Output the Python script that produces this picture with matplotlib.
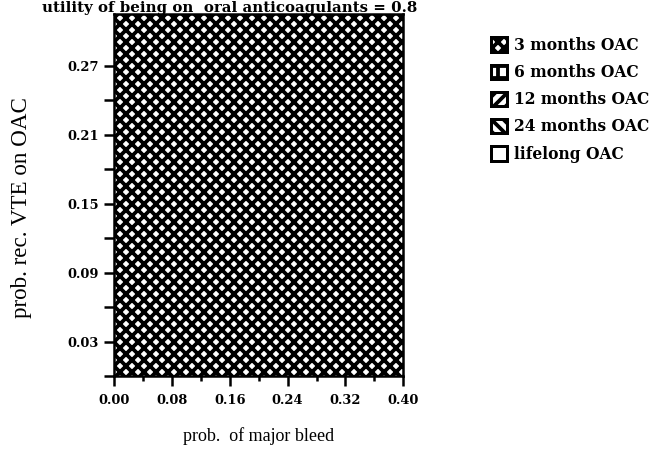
import matplotlib
matplotlib.use('Agg')
import matplotlib.pyplot as plt
from matplotlib.patches import Patch

# optimal strategy map: one region covers the whole grid
bleed = [0.0, 0.40]           # prob. of major bleed
vte_low = [0.0, 0.0]          # region lower bound
vte_high = [0.315, 0.315]     # region upper bound
region_strategy = '3 months OAC'

strategies = ['3 months OAC', '6 months OAC', '12 months OAC', '24 months OAC', 'lifelong OAC']
hatches = ['xx', '+', '//', '\\\\', '']

xticks = [0.00, 0.08, 0.16, 0.24, 0.32, 0.40]
yticks = [0.03, 0.09, 0.15, 0.21, 0.27]

plt.rcParams['font.family'] = ['Liberation Serif', 'DejaVu Serif']
plt.rcParams['hatch.linewidth'] = 3.8
plt.rcParams['hatch.color'] = 'black'
bold_font = ['DejaVu Serif']

# dpi 72 so that 1 pt = 1 px and the hatch cell is 72 px
fig = plt.figure(figsize=(671 / 72, 456 / 72), dpi=72)
ax = fig.add_axes([0.170, 0.1754, 0.431, 0.7939])

h = hatches[strategies.index(region_strategy)]
ax.fill_between(bleed, vte_low, vte_high, facecolor='white', edgecolor='black',
                hatch=h, linewidth=0)

ax.set_xlim(0, 0.40)
ax.set_ylim(0, 0.315)
ax.set_xticks(xticks)
ax.set_xticklabels(['{:.2f}'.format(v) for v in xticks])
ax.set_xticks([0.04, 0.12, 0.20, 0.28, 0.36], minor=True)
ax.set_yticks(yticks)
ax.set_yticklabels(['{:.2f}'.format(v) for v in yticks])
ax.set_yticks([0.0, 0.06, 0.12, 0.18, 0.24], minor=True)
for lab in ax.get_xticklabels() + ax.get_yticklabels():
    lab.set_fontweight('bold')
    lab.set_fontsize(13)
    lab.set_family(bold_font)
ax.tick_params(which='major', direction='out', length=10, width=2.5, pad=5)
ax.tick_params(axis='x', which='minor', direction='out', length=5, width=2.5)
ax.tick_params(axis='y', which='minor', direction='out', length=10, width=2.5)
ax.tick_params(axis='x', which='major', pad=8)
for s in ax.spines.values():
    s.set_linewidth(2.5)

ax.set_xlabel('prob.  of major bleed', fontsize=18, labelpad=20)
ax.set_ylabel('prob. rec. VTE on OAC', fontsize=23)
ax.yaxis.set_label_coords(-0.284, 0.466)

fig.text(230 / 671, 1 - 12 / 456, 'utility of being on  oral anticoagulants = 0.8',
         ha='center', va='baseline', fontsize=15, fontweight='bold', family=bold_font)

handles = [Patch(facecolor='white', edgecolor='black', hatch=hh, linewidth=3) for hh in hatches]
leg = fig.legend(handles, strategies, loc='upper left', bbox_to_anchor=(0.722, 0.933),
                 frameon=False, handlelength=1.05, handleheight=1.05,
                 handletextpad=0.45, labelspacing=0.66, borderaxespad=0,
                 prop={'family': bold_font, 'weight': 'bold', 'size': 15.5})

fig.savefig('out.png', dpi=72)
